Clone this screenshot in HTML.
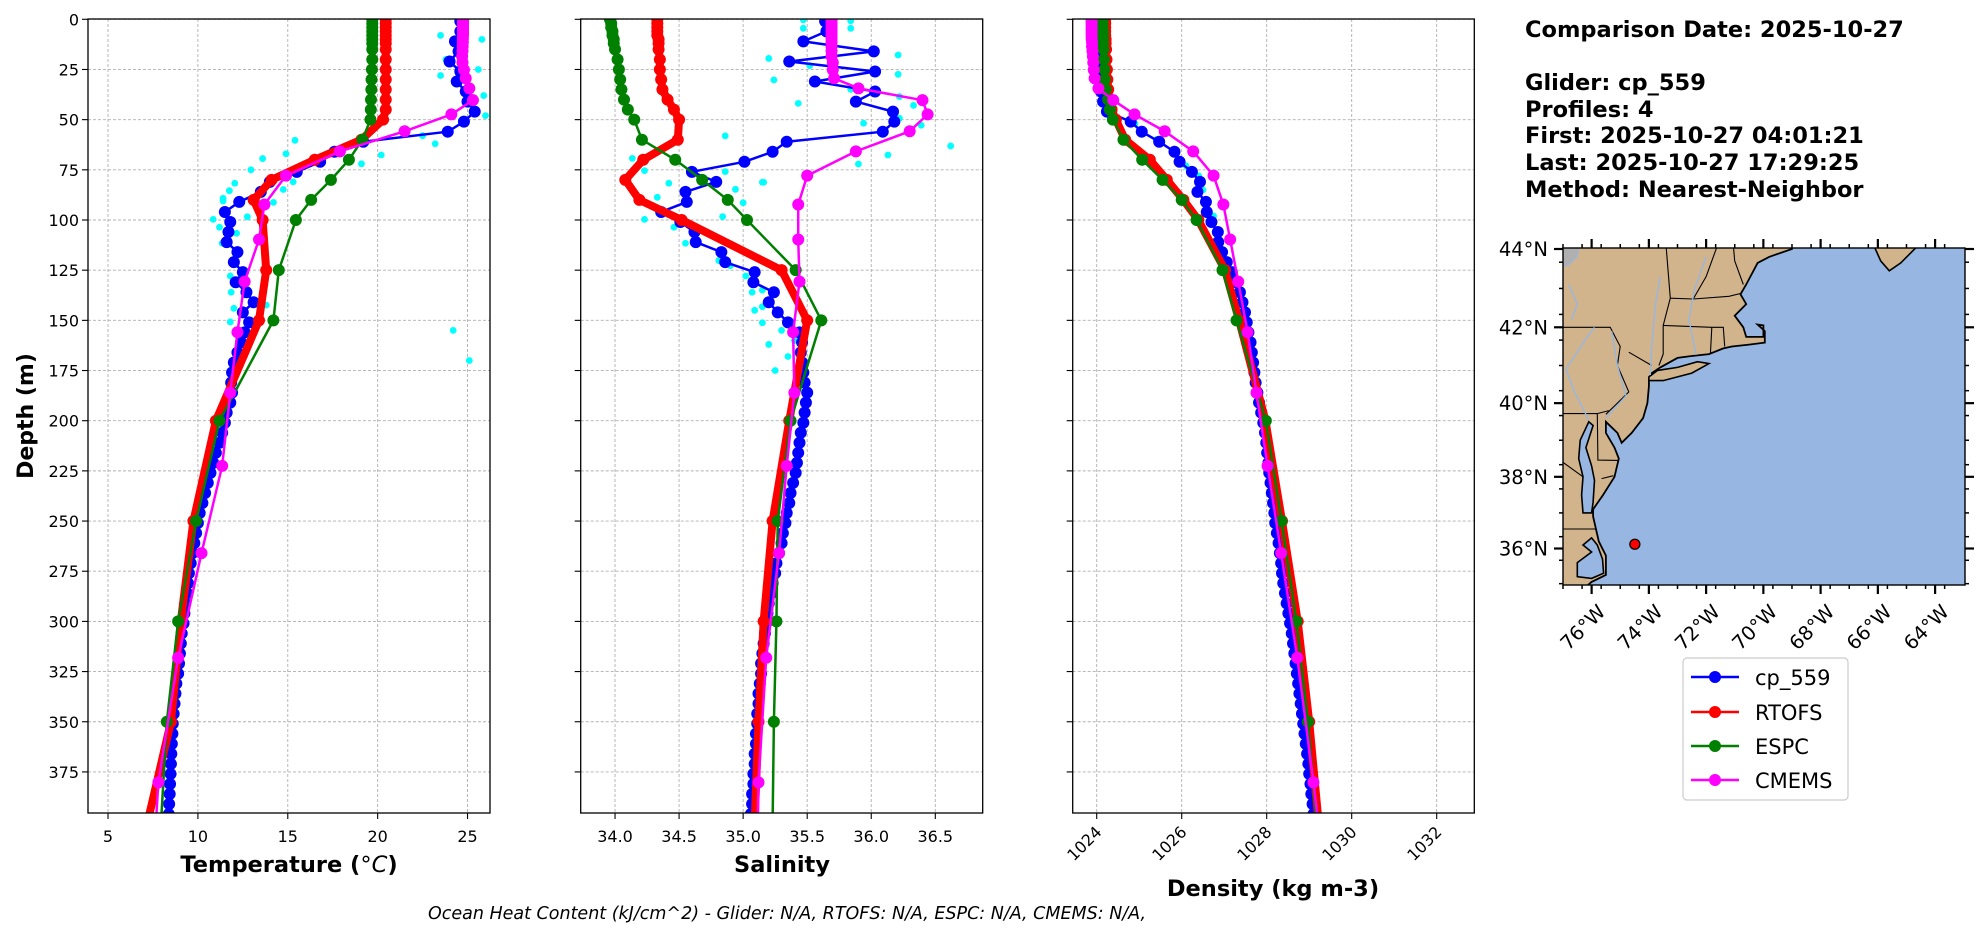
<!DOCTYPE html>
<html><head><meta charset="utf-8">
<style>
html,body{margin:0;padding:0;background:#fff;}
svg{display:block;font-family:"DejaVu Sans","Liberation Sans",sans-serif;}
</style></head>
<body>
<svg id="fig" width="1980" height="934" viewBox="0 0 1980 934" xmlns="http://www.w3.org/2000/svg">
<defs>
<clipPath id="c1"><rect x="88" y="19" width="402" height="794"/></clipPath>
<clipPath id="c2"><rect x="580.7" y="19" width="402" height="794"/></clipPath>
<clipPath id="c3"><rect x="1072.7" y="19" width="401.6" height="794"/></clipPath>
<clipPath id="cm"><rect x="1563" y="248" width="402" height="337"/></clipPath>
</defs>
<g id="layer"></g>
<text x="1525" y="37" font-size="22.5" font-weight="bold">Comparison Date: 2025-10-27</text>
<text x="1525" y="90" font-size="22.5" font-weight="bold">Glider: cp_559</text>
<text x="1525" y="117" font-size="22.5" font-weight="bold">Profiles: 4</text>
<text x="1525" y="143" font-size="22.5" font-weight="bold">First: 2025-10-27 04:01:21</text>
<text x="1525" y="170" font-size="22.5" font-weight="bold">Last: 2025-10-27 17:29:25</text>
<text x="1525" y="197" font-size="22.5" font-weight="bold">Method: Nearest-Neighbor</text>
<text x="33" y="416" font-size="22" font-weight="bold" text-anchor="middle" transform="rotate(-90 33 416)">Depth (m)</text>
<text x="289" y="872" font-size="22.5" font-weight="bold" text-anchor="middle">Temperature (<tspan font-style="italic" font-weight="normal">°C</tspan>)</text>
<text x="782" y="872" font-size="22.5" font-weight="bold" text-anchor="middle">Salinity</text>
<text x="1273" y="896" font-size="22.5" font-weight="bold" text-anchor="middle">Density (kg m-3)</text>
<text x="787" y="919" font-size="17.5" font-style="italic" text-anchor="middle">Ocean Heat Content (kJ/cm^2) - Glider: N/A,  RTOFS: N/A,  ESPC: N/A,  CMEMS: N/A,</text>
<g>
<rect x="1683" y="658" width="165" height="142" rx="4" fill="#fff" stroke="#cccccc" stroke-width="1.2"/>
<g><line x1="1691" y1="677" x2="1739" y2="677" stroke="#0000ff" stroke-width="2.5"/><circle cx="1715" cy="677" r="6" fill="#0000ff"/><text x="1755" y="685" font-size="21">cp_559</text></g>
<g><line x1="1691" y1="712" x2="1739" y2="712" stroke="#ff0000" stroke-width="2.5"/><circle cx="1715" cy="712" r="6" fill="#ff0000"/><text x="1755" y="720" font-size="21">RTOFS</text></g>
<g><line x1="1691" y1="746" x2="1739" y2="746" stroke="#008000" stroke-width="2.5"/><circle cx="1715" cy="746" r="6" fill="#008000"/><text x="1755" y="754" font-size="21">ESPC</text></g>
<g><line x1="1691" y1="780" x2="1739" y2="780" stroke="#ff00ff" stroke-width="2.5"/><circle cx="1715" cy="780" r="6" fill="#ff00ff"/><text x="1755" y="788" font-size="21">CMEMS</text></g>
</g>
</svg>
<script>
// ---------- data ----------
const depthTicks = [0,25,50,75,100,125,150,175,200,225,250,275,300,325,350,375];
const tempTicks = [5,10,15,20,25];
const salTicks = ["34.0","34.5","35.0","35.5","36.0","36.5"];
const densTicks = [1024,1026,1028,1030,1032];

const modelDepth = [0,2,4,6,8,10,12,15,20,25,30,35,40,45,50,60,70,80,90,100,125,150,200,250,300,350,400];
const rtofsTemp = [20.45,20.45,20.45,20.45,20.45,20.45,20.45,20.45,20.45,20.45,20.45,20.45,20.45,20.45,20.3,19.1,16.5,14.1,13.1,13.6,13.8,13.4,11.0,9.75,9.05,8.5,7.2];
const espcTemp = [19.7,19.7,19.7,19.7,19.7,19.7,19.7,19.7,19.7,19.68,19.66,19.65,19.63,19.62,19.6,19.15,18.4,17.4,16.3,15.45,14.5,14.2,11.2,9.9,8.9,8.27,7.95];
const rtofsSal = [34.33,34.33,34.33,34.33,34.33,34.34,34.34,34.34,34.35,34.35,34.36,34.37,34.41,34.46,34.5,34.49,34.22,34.08,34.19,34.52,35.3,35.5,35.36,35.23,35.16,35.12,35.09];
const espcSal = [33.96,33.97,33.97,33.98,33.98,33.99,33.99,34.0,34.02,34.03,34.04,34.05,34.07,34.1,34.15,34.21,34.47,34.68,34.88,35.03,35.41,35.61,35.37,35.27,35.26,35.24,35.23];
const rtofsDens = [1024.2,1024.2,1024.2,1024.2,1024.2,1024.21,1024.21,1024.22,1024.23,1024.24,1024.25,1024.27,1024.3,1024.35,1024.45,1024.67,1025.25,1025.65,1026.04,1026.39,1027.02,1027.35,1027.97,1028.36,1028.73,1029.0,1029.22];
const espcDens = [1024.14,1024.14,1024.14,1024.15,1024.15,1024.15,1024.15,1024.16,1024.17,1024.18,1024.19,1024.21,1024.27,1024.31,1024.38,1024.63,1025.07,1025.55,1026.0,1026.35,1026.96,1027.29,1027.98,1028.35,1028.7,1028.97,1029.17];

const cmemsDepth = [0.5,1.5,2.6,3.8,5.1,6.4,7.9,9.6,11.4,13.5,15.8,18.5,21.6,25.2,29.4,34.4,40.3,47.4,55.8,65.8,77.9,92.3,109.7,130.7,155.9,186.1,222.5,266.0,318.1,380.2,453.9];
const cmemsTemp = [24.75,24.75,24.75,24.75,24.75,24.75,24.75,24.74,24.74,24.73,24.72,24.7,24.72,24.8,24.9,25.1,25.3,24.1,21.5,17.9,14.9,13.7,13.4,12.6,12.2,11.8,11.35,10.2,8.9,7.8,7.3];
const cmemsSal = [35.69,35.69,35.69,35.69,35.69,35.69,35.69,35.69,35.69,35.69,35.69,35.69,35.7,35.7,35.71,35.9,36.4,36.44,36.3,35.88,35.5,35.43,35.43,35.44,35.39,35.4,35.34,35.28,35.18,35.12,35.1];
const cmemsDens = [1023.88,1023.88,1023.88,1023.88,1023.88,1023.88,1023.88,1023.88,1023.89,1023.89,1023.9,1023.91,1023.92,1023.93,1023.95,1024.04,1024.39,1024.89,1025.6,1026.27,1026.75,1026.98,1027.14,1027.33,1027.55,1027.76,1028.02,1028.34,1028.72,1029.1,1029.5];

const gliderDepth = [1,6,11,16,21,26,31,36,41,46,51,56,61,66,71,76,81,86,91,96,101,106,111,116,121,126,131,136,141,146,151,156,161,166,171,176,181,186,191,196,201,206,211,216,221,226,231,236,241,246,251,256,261,266,271,276,281,286,291,296,301,306,311,316,321,326,331,336,341,346,351,356,361,366,371,376,381,386,391,396];
const gliderTemp = [24.6,24.6,24.3,24.5,24.0,24.6,24.4,24.9,25.0,25.4,24.8,23.9,19.2,17.6,16.8,15.5,14.0,13.5,12.3,11.5,11.8,11.7,11.6,12.2,12.0,12.5,12.1,12.7,13.1,12.5,12.85,12.6,12.4,12.2,12.0,11.9,11.85,11.9,11.8,11.6,11.5,11.35,11.2,11.0,10.85,10.7,10.55,10.4,10.25,10.1,10.0,9.9,9.8,9.7,9.6,9.5,9.45,9.4,9.3,9.25,9.2,9.1,9.05,9.0,8.95,8.9,8.8,8.75,8.7,8.65,8.6,8.58,8.55,8.52,8.5,8.48,8.45,8.43,8.4,8.38];
const gliderSal = [35.64,35.65,35.47,36.02,35.36,36.03,35.56,36.03,35.88,36.17,36.18,36.09,35.34,35.23,35.01,34.6,34.79,34.55,34.56,34.36,34.51,34.62,34.63,34.83,34.86,35.09,35.08,35.24,35.2,35.27,35.35,35.44,35.46,35.45,35.46,35.47,35.48,35.5,35.49,35.48,35.47,35.45,35.44,35.43,35.42,35.41,35.39,35.37,35.36,35.34,35.33,35.31,35.3,35.28,35.26,35.25,35.23,35.22,35.2,35.19,35.18,35.17,35.16,35.15,35.14,35.14,35.13,35.12,35.12,35.11,35.11,35.1,35.1,35.09,35.09,35.08,35.08,35.07,35.07,35.06];
const gliderDens = [1024.0,1024.0,1024.0,1024.02,1024.03,1024.05,1024.07,1024.1,1024.15,1024.24,1024.8,1025.06,1025.47,1025.83,1025.95,1026.24,1026.43,1026.37,1026.57,1026.59,1026.7,1026.85,1026.86,1026.95,1027.06,1027.18,1027.27,1027.37,1027.43,1027.49,1027.53,1027.57,1027.62,1027.65,1027.68,1027.71,1027.74,1027.78,1027.82,1027.87,1027.92,1027.96,1027.99,1028.01,1028.04,1028.06,1028.09,1028.12,1028.15,1028.18,1028.2,1028.24,1028.28,1028.31,1028.34,1028.36,1028.39,1028.43,1028.47,1028.51,1028.55,1028.59,1028.62,1028.65,1028.68,1028.71,1028.74,1028.77,1028.8,1028.83,1028.86,1028.89,1028.92,1028.95,1028.98,1029.0,1029.03,1029.05,1029.08,1029.1];

const rawTemp = [15.4,20.2,19.1,14.9,13.6,12.95,12.05,11.75,11.4,11.4,15.3,14.75,14.2,12.75,10.85,11.2,12.15,11.35,12.0,11.8,11.85,13.8,12.0,11.8,23.5,25.8,23.8,25.6,23.5,25.9,26.0,23.2,22.5,24.2,25.1];
const rawTempDepth = [60.3,67.6,72,67,69.4,75,81.7,85.4,89.2,90.5,81,84.8,91.2,98.4,99.7,103.6,106.6,111.6,121.6,127.9,136,142.4,144,150.8,8,10,20,25,28,38,48,62,58,155,170];
const rawSal = [35.47,35.84,35.47,35.84,35.2,35.52,36.21,36.21,35.24,35.84,35.43,36.22,36.33,35.94,36.39,36.22,36.62,36.13,35.9,35.15,34.135,34.23,34.42,34.33,34.29,34.23,34.46,34.55,34.84,34.86,34.94,35.0,35.16,34.86,34.81,34.9,35.02,35.07,35.15,35.09,35.15,35.15,35.3,35.2,35.35,35.25,35.4,35.45];
const rawSalDepth = [0.3,0.7,4.5,4.5,19.5,23.1,17.8,27.4,30.2,34.9,41.9,38.5,42.9,51.8,52.8,49.3,63.1,67.6,72.1,81.2,69.3,75.4,81.7,88.7,93.4,99.7,103.6,111.6,98.3,75.9,84.7,91.4,81.2,58.1,120.2,122.8,127.9,136,134.9,145,143.2,151.2,155,162,168,175,160,170];
const rawDens = [1024.3,1024.9,1025.4,1026.1,1026.4,1026.5,1026.75];
const rawDensDepth = [44,52,60,73,78,85,98];

const glider = {lon:-74.49, lat:36.12};

// ---------- helpers ----------
const NS = "http://www.w3.org/2000/svg";
const layer = document.getElementById('layer');
function mk(tag, attrs, parent){
  const e = document.createElementNS(NS, tag);
  for (const k in attrs) e.setAttribute(k, attrs[k]);
  (parent||layer).appendChild(e);
  return e;
}
const Y0 = 19.3, YK = 2.007;
function yDepth(d){ return Y0 + d*YK; }
const panels = [
  {x0:88, x1:490, lo:3.886, hi:26.25, clip:'c1', name:'temperature'},
  {x0:580.7, x1:982.7, lo:33.732, hi:36.870, clip:'c2', name:'salinity'},
  {x0:1072.7, x1:1474.3, lo:1023.435, hi:1032.885, clip:'c3', name:'density'}
];
function xv(p, v){ return p.x0 + (v - p.lo)/(p.hi - p.lo)*(p.x1 - p.x0); }
const YB = 813;

panels.forEach((p, i) => {
  const g = mk('g', {});
  
  
  const ticks = i===0 ? tempTicks : (i===1 ? salTicks : densTicks);
  ticks.forEach(t => {
    const x = xv(p, parseFloat(t));
    const gl = mk('line', {x1:x, x2:x, y1:19, y2:YB, stroke:'#b0b0b0', 'stroke-width':0.9, 'stroke-dasharray':'3,2'}, g);
    
    
    mk('line', {x1:x, x2:x, y1:YB, y2:YB+6, stroke:'#000', 'stroke-width':1.1}, g);
    let lab;
    if (i===2){
      lab = mk('text', {x:x+6, y:YB+20, 'font-size':16, 'text-anchor':'end', transform:`rotate(-45 ${x+6} ${YB+20})`}, g);
    } else {
      lab = mk('text', {x:x, y:YB+29, 'font-size':16, 'text-anchor':'middle'}, g);
    }
    lab.textContent = String(t);
    
    
  });
  depthTicks.forEach(d => {
    const y = yDepth(d);
    const gl = mk('line', {x1:p.x0, x2:p.x1, y1:y, y2:y, stroke:'#b0b0b0', 'stroke-width':0.9, 'stroke-dasharray':'3,2'}, g);
    
    
    mk('line', {x1:p.x0-6, x2:p.x0, y1:y, y2:y, stroke:'#000', 'stroke-width':1.1}, g);
    if (i===0){
      const lab = mk('text', {x:p.x0-9, y:y+6, 'font-size':16, 'text-anchor':'end'}, g);
      lab.textContent = String(d);
      
      
    }
  });
});

function plotSeries(p, xs, ds, color, lw, r, name){
  const g = mk('g', {'clip-path':`url(#${p.clip})`});
  
  
  const pts = xs.map((v,k) => `${xv(p,v).toFixed(2)},${yDepth(ds[k]).toFixed(2)}`).join(' ');
  mk('polyline', {points:pts, fill:'none', stroke:color, 'stroke-width':lw, 'stroke-linejoin':'round'}, g);
  xs.forEach((v,k) => {
    const c = mk('circle', {cx:xv(p,v), cy:yDepth(ds[k]), r:r, fill:color}, g);
    
    
  });
}
function scatter(p, xs, ds, name){
  const g = mk('g', {'clip-path':`url(#${p.clip})`});
  
  
  xs.forEach((v,k) => {
    const c = mk('circle', {cx:xv(p,v), cy:yDepth(ds[k]), r:3.4, fill:'#00ffff'}, g);
    
    
  });
}
const [P1,P2,P3] = panels;
scatter(P1, rawTemp, rawTempDepth, 'raw-temperature-scatter');
scatter(P2, rawSal, rawSalDepth, 'raw-salinity-scatter');
scatter(P3, rawDens, rawDensDepth, 'raw-density-scatter');
plotSeries(P1, gliderTemp, gliderDepth, '#0000ff', 2.5, 6, 'glider-temperature');
plotSeries(P2, gliderSal, gliderDepth, '#0000ff', 2.5, 6, 'glider-salinity');
plotSeries(P3, gliderDens, gliderDepth, '#0000ff', 2.5, 6, 'glider-density');
plotSeries(P1, rtofsTemp, modelDepth, '#ff0000', 8, 6, 'rtofs-temperature');
plotSeries(P2, rtofsSal, modelDepth, '#ff0000', 8, 6, 'rtofs-salinity');
plotSeries(P3, rtofsDens, modelDepth, '#ff0000', 8, 6, 'rtofs-density');
plotSeries(P1, espcTemp, modelDepth, '#008000', 2.5, 6, 'espc-temperature');
plotSeries(P2, espcSal, modelDepth, '#008000', 2.5, 6, 'espc-salinity');
plotSeries(P3, espcDens, modelDepth, '#008000', 2.5, 6, 'espc-density');
plotSeries(P1, cmemsTemp, cmemsDepth, '#ff00ff', 2.5, 6, 'cmems-temperature');
plotSeries(P2, cmemsSal, cmemsDepth, '#ff00ff', 2.5, 6, 'cmems-salinity');
plotSeries(P3, cmemsDens, cmemsDepth, '#ff00ff', 2.5, 6, 'cmems-density');

panels.forEach(p => {
  const r = mk('rect', {x:p.x0, y:19, width:p.x1-p.x0, height:YB-19, fill:'none', stroke:'#000', 'stroke-width':1.3});
  
  
});

// ---------- map ----------
const MX0 = 1563, MX1 = 1965, MY0 = 248, MY1 = 585, K = 1640;
function merc(lat){ return Math.log(Math.tan(Math.PI/4 + lat*Math.PI/360)); }
function mx(lon){ return MX0 + (lon + 77)*K*Math.PI/180; }
function my(lat){ return 249 - K*(merc(lat) - merc(44)); }
function poly(coords){ return coords.map(c => `${mx(c[0]).toFixed(1)},${my(c[1]).toFixed(1)}`).join(' '); }
const mapG = mk('g', {'clip-path':'url(#cm)'});


mk('rect', {x:MX0, y:MY0, width:MX1-MX0, height:MY1-MY0, fill:'#97b6e1'}, mapG);
const mainland = [[-78,45],[-69.0,45],[-69.0,44.0],[-69.8,43.8],[-70.2,43.65],[-70.6,43.1],[-70.8,42.85],[-70.6,42.6],[-71.0,42.3],[-70.7,42.0],[-70.6,41.75],[-70.0,41.75],[-70.0,42.05],[-70.2,42.07],[-69.95,41.9],[-69.95,41.6],[-70.5,41.55],[-71.1,41.5],[-71.4,41.45],[-71.9,41.3],[-72.5,41.25],[-73.0,41.2],[-73.6,40.95],[-73.9,40.8],[-74.0,40.65],[-74.0,40.45],[-74.05,40.0],[-74.2,39.6],[-74.6,39.2],[-74.95,38.93],[-75.1,39.2],[-75.5,39.5],[-75.5,39.2],[-75.2,38.8],[-75.05,38.5],[-75.2,38.0],[-75.6,37.5],[-75.95,37.1],[-75.95,36.9],[-75.75,36.2],[-75.5,35.8],[-75.5,35.25],[-76.0,35.05],[-76.5,34.7],[-78,34.5]];
const land = mk('polygon', {points:poly(mainland), fill:'#d2b48c', stroke:'#000', 'stroke-width':1.8}, mapG);


const waters = [
 [[-76.0,37.0],[-76.3,37.0],[-76.35,37.5],[-76.3,38.0],[-76.45,38.5],[-76.4,39.0],[-76.1,39.5],[-75.95,39.4],[-76.2,38.8],[-76.0,38.3],[-75.9,37.9],[-75.95,37.3]],
 [[-76.0,36.3],[-75.8,36.1],[-75.62,35.7],[-75.58,35.3],[-76.0,35.15],[-76.5,35.2],[-76.5,35.6],[-76.0,35.9],[-76.3,36.1]]
];
waters.forEach(w => mk('polygon', {points:poly(w), fill:'#97b6e1', stroke:'#000', 'stroke-width':1.6}, mapG));
mk('polygon', {points:poly([[-74.0,40.6],[-73.5,40.6],[-72.5,40.8],[-71.9,41.05],[-72.3,41.1],[-73.0,40.95],[-73.7,40.87],[-74.0,40.7]]), fill:'#d2b48c', stroke:'#000', 'stroke-width':1.6}, mapG);
mk('polygon', {points:poly([[-66.4,44.5],[-65.9,43.7],[-65.6,43.45],[-65.2,43.65],[-64.3,44.3],[-64.6,44.6]]), fill:'#d2b48c', stroke:'#000', 'stroke-width':1.6}, mapG);
mk('polygon', {points:poly([[-77,44.2],[-76.4,44.2],[-76.5,43.8],[-76.8,43.6],[-77.2,43.5]]), fill:'#b0b0b0', stroke:'#97b6e1', 'stroke-width':1}, mapG);
const borders = [
 [[-77,42.0],[-75.35,42.0],[-75.0,41.5],[-75.1,41.0],[-74.7,40.3],[-75.1,40.0],[-75.5,39.7]],
 [[-74.7,41.35],[-73.9,41.0]],
 [[-73.65,41.0],[-73.5,41.3],[-73.5,42.05],[-73.25,42.75],[-73.4,44.1]],
 [[-72.45,42.73],[-72.0,43.3],[-71.6,44.1]],
 [[-73.5,42.05],[-71.8,42.0],[-71.4,42.0],[-71.35,41.5]],
 [[-71.8,42.0],[-71.85,41.3]],
 [[-73.25,42.75],[-72.45,42.73],[-71.2,42.8],[-70.8,42.87]],
 [[-70.7,43.1],[-71.0,43.7],[-71.05,44.1]],
 [[-77,39.72],[-75.8,39.72],[-75.78,38.46],[-75.05,38.45]],
 [[-75.8,39.72],[-75.4,39.8]],
 [[-77,38.4],[-76.3,38.0]],
 [[-77,36.55],[-75.87,36.55]],
 [[-75.65,37.95],[-75.24,38.03]]
];
borders.forEach(b => mk('polyline', {points:poly(b), fill:'none', stroke:'#000', 'stroke-width':1.1}, mapG));
const rivers = [
 [[-73.95,40.75],[-73.9,41.5],[-73.75,42.7],[-73.6,43.3]],
 [[-72.35,41.28],[-72.6,42.2],[-72.4,43.0],[-72.0,43.8]],
 [[-75.5,39.6],[-74.8,40.2],[-75.1,41.0],[-75.3,41.9]],
 [[-76.1,39.55],[-76.6,40.3],[-76.9,40.9],[-76.2,41.7],[-75.9,42.0]],
 [[-76.8,43.1],[-76.5,42.6],[-76.7,42.2]]
];
rivers.forEach(rv => mk('polyline', {points:poly(rv), fill:'none', stroke:'#97b6e1', 'stroke-width':1.4}, mapG));
const gd = mk('circle', {cx:mx(glider.lon), cy:my(glider.lat), r:5, fill:'#ff0000', stroke:'#000', 'stroke-width':1.3});


const mf = mk('rect', {x:MX0, y:MY0, width:MX1-MX0, height:MY1-MY0, fill:'none', stroke:'#000', 'stroke-width':1.4});


const latTicks = [36,38,40,42,44];
const lonTicks = [-76,-74,-72,-70,-68,-66,-64];
for (let lat = 35; lat <= 44.01; lat += 2/3){
  const y = my(lat);
  mk('line', {x1:MX0-4, x2:MX0, y1:y, y2:y, stroke:'#000', 'stroke-width':1.5});
  mk('line', {x1:MX1, x2:MX1+4, y1:y, y2:y, stroke:'#000', 'stroke-width':1.5});
}
for (let lon = -77; lon <= -63; lon += 2/3){
  const x = mx(lon);
  mk('line', {x1:x, x2:x, y1:MY1, y2:MY1+4, stroke:'#000', 'stroke-width':1.5});
  mk('line', {x1:x, x2:x, y1:MY0-4, y2:MY0, stroke:'#000', 'stroke-width':1.5});
}
latTicks.forEach(lat => {
  const y = my(lat);
  mk('line', {x1:MX0-9, x2:MX0, y1:y, y2:y, stroke:'#000', 'stroke-width':2.2});
  mk('line', {x1:MX1, x2:MX1+9, y1:y, y2:y, stroke:'#000', 'stroke-width':2.2});
  const t = mk('text', {x:MX0-15, y:y+7, 'font-size':19.5, 'text-anchor':'end'});
  t.textContent = lat + '°N';
  
  
});
lonTicks.forEach(lon => {
  const x = mx(lon);
  mk('line', {x1:x, x2:x, y1:MY1, y2:MY1+9, stroke:'#000', 'stroke-width':2.2});
  mk('line', {x1:x, x2:x, y1:MY0-9, y2:MY0, stroke:'#000', 'stroke-width':2.2});
  const ax = x + 15, ay = MY1 + 28;
  const t = mk('text', {x:ax, y:ay, 'font-size':19.5, 'text-anchor':'end', transform:`rotate(-45 ${ax} ${ay})`});
  t.textContent = Math.abs(lon) + '°W';
  
  
});
</script>
</body></html>
